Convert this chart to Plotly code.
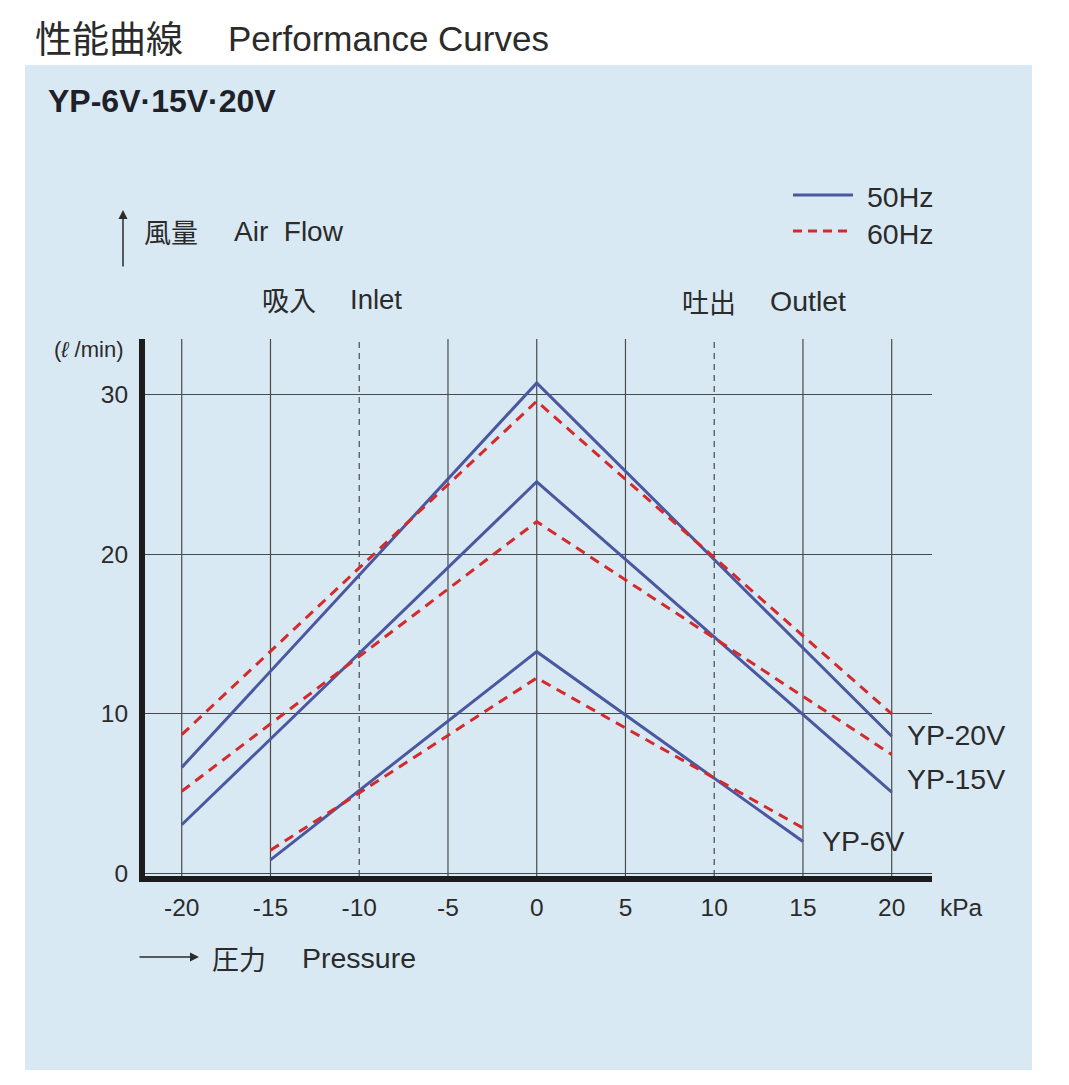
import plotly.graph_objects as go

# ---- data ----
pressure_wide = [-20, 0, 20]          # kPa, YP-15V / YP-20V
pressure_6v = [-15, 0, 15]            # kPa, YP-6V

yp20v_50hz = [6.65, 30.75, 8.6]
yp20v_60hz = [8.7, 29.6, 10.0]
yp15v_50hz = [3.05, 24.55, 5.1]
yp15v_60hz = [5.15, 22.05, 7.45]
yp6v_50hz = [0.85, 13.9, 2.0]
yp6v_60hz = [1.45, 12.25, 2.85]

x_ticks = [-20, -15, -10, -5, 0, 5, 10, 15, 20]
x_ticktext = ["-20", "-15", "-10", "-5", "0", "5", "10", "15", "20"]
y_ticks = [0, 10, 20, 30]
dashed_grid_x = [-10, 10]

BLUE = "#4a58a0"
RED = "#d42a2c"
INK = "#2b2b2b"
GRID = "#4a4a4a"
PANEL = "#d9e9f4"
FONT = "Liberation Sans, Arial, sans-serif"
CJK = "Noto Sans CJK JP, Liberation Sans, sans-serif"

W, H = 1069, 1085
PL, PR, PT, PB = 145, 932, 339, 876


def px(x):
    return (x - PL) / (PR - PL)


def py(y):
    return (PB - y) / (PB - PT)


fig = go.Figure()

series = [
    (pressure_wide, yp20v_50hz, BLUE, "solid"),
    (pressure_wide, yp20v_60hz, RED, "10px,7px"),
    (pressure_wide, yp15v_50hz, BLUE, "solid"),
    (pressure_wide, yp15v_60hz, RED, "10px,7px"),
    (pressure_6v, yp6v_50hz, BLUE, "solid"),
    (pressure_6v, yp6v_60hz, RED, "10px,7px"),
]
for xs, ys, col, dash in series:
    fig.add_trace(go.Scatter(x=xs, y=ys, mode="lines",
                             line=dict(color=col, width=3, dash=dash),
                             showlegend=False, hoverinfo="skip"))

shapes = []
# panel background
shapes.append(dict(type="rect", xref="paper", yref="paper",
                   x0=px(25), x1=px(1032), y0=py(1070), y1=py(65),
                   fillcolor=PANEL, line=dict(width=0), layer="below"))
# vertical grid lines
for xv in x_ticks:
    shapes.append(dict(type="line", xref="x", yref="paper", x0=xv, x1=xv,
                       y0=0, y1=1, layer="below",
                       line=dict(color=GRID, width=1.2,
                                 dash="6px,5px" if xv in dashed_grid_x else "solid")))
# legend samples
shapes.append(dict(type="line", xref="paper", yref="paper",
                   x0=px(793), x1=px(853), y0=py(195), y1=py(195),
                   line=dict(color=BLUE, width=3)))
shapes.append(dict(type="line", xref="paper", yref="paper",
                   x0=px(793), x1=px(853), y0=py(231), y1=py(231),
                   line=dict(color=RED, width=3, dash="9px,6px")))

ann = []


def text(x, y, s, size, font=FONT, anchor="left", bold=False, color=INK):
    ann.append(dict(xref="paper", yref="paper", x=px(x), y=py(y),
                    text=f"<b>{s}</b>" if bold else s, showarrow=False,
                    xanchor=anchor, yanchor="middle",
                    font=dict(family=font, size=size, color=color)))


text(33, 37, "性能曲線", 37, CJK)
text(226, 38, "Performance Curves", 35)
text(46, 101, "YP-6V·15V·20V", 32, bold=True, color="#1e2228")
text(142, 232, "風量", 27, CJK)
text(232, 232, "Air&nbsp;&nbsp;Flow", 28)
text(865, 197, "50Hz", 28.5)
text(865, 234, "60Hz", 28.5)
text(260, 299, "吸入", 27, CJK)
text(348, 299, "Inlet", 27.5)
text(680, 301, "吐出", 27, CJK)
text(768, 301, "Outlet", 28.5)
text(52, 349, "(<i>ℓ</i> /min)", 22)
text(938, 907, "kPa", 24.5)
text(210, 958, "圧力", 27, CJK)
text(300, 958, "Pressure", 28.5)
text(905, 735, "YP-20V", 28.5)
text(905, 779, "YP-15V", 28.5)
text(820, 841, "YP-6V", 28.5)

# arrows
ann.append(dict(xref="paper", yref="paper", x=px(123), y=py(210), ax=0, ay=58,
                text="", showarrow=True, arrowhead=2, arrowsize=1.2,
                arrowwidth=1.5, arrowcolor=INK))
ann.append(dict(xref="paper", yref="paper", x=px(199), y=py(957), ax=-61, ay=0,
                text="", showarrow=True, arrowhead=2, arrowsize=1.2,
                arrowwidth=1.5, arrowcolor=INK))

fig.update_layout(
    width=W, height=H,
    margin=dict(l=PL, r=W - PR, t=PT, b=H - PB, pad=0),
    paper_bgcolor="white", plot_bgcolor="rgba(0,0,0,0)",
    shapes=shapes, annotations=ann,
    font=dict(family=FONT, color=INK),
)
fig.update_xaxes(range=[-22.07, 22.27], tickvals=x_ticks, ticktext=x_ticktext,
                 showgrid=False, zeroline=False, showline=True,
                 linecolor="#1c1c1c", linewidth=6, ticks="",
                 ticklabelstandoff=5,
                 tickfont=dict(size=24.5, color=INK, family=FONT))
fig.update_yaxes(range=[-0.16, 33.5], tickvals=y_ticks,
                 showgrid=True, gridcolor=GRID, gridwidth=1.2,
                 zeroline=False, showline=True,
                 linecolor="#1c1c1c", linewidth=6, ticks="",
                 ticklabelstandoff=6,
                 tickfont=dict(size=24.5, color=INK, family=FONT))

fig.write_html("out.html")
